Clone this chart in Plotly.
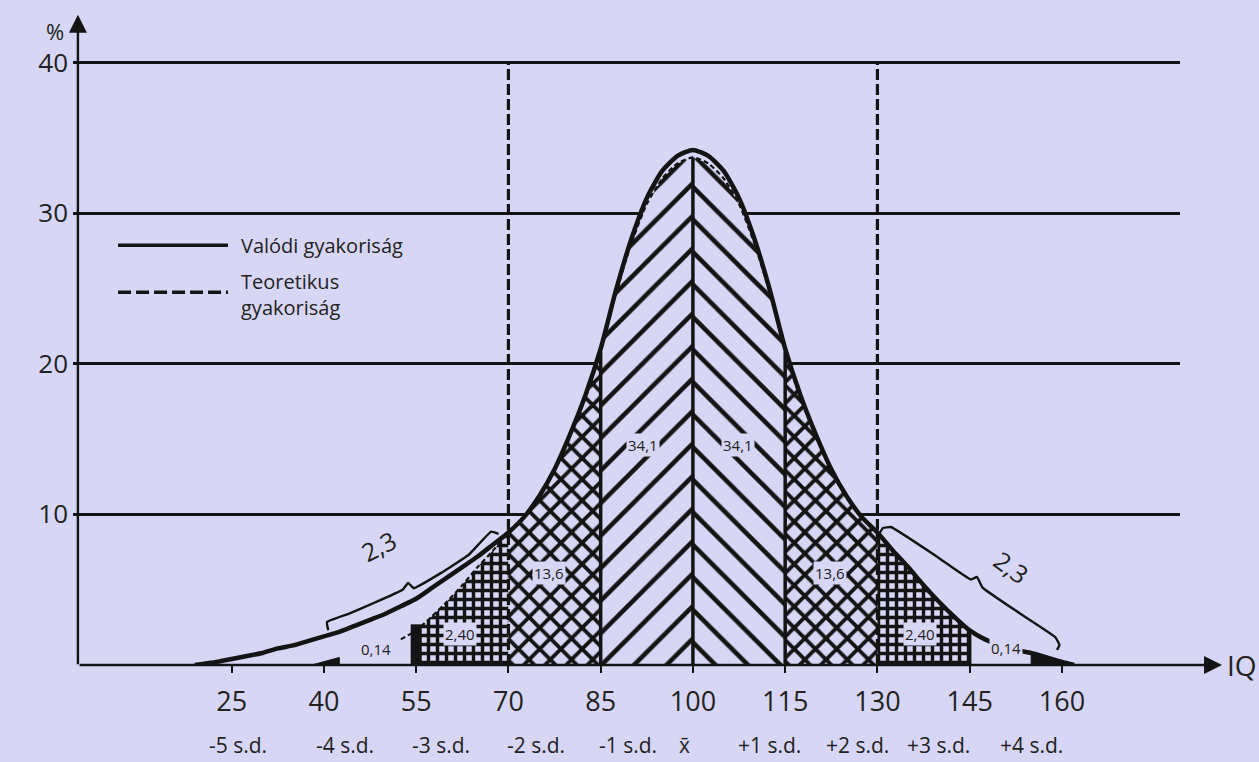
import plotly.graph_objects as go

BG = "#d7d7f5"
INK = "#141414"
FONT = "Open Sans, Noto Sans, DejaVu Sans, sans-serif"

# ---------------- data ----------------
x_ticks = [25, 40, 55, 70, 85, 100, 115, 130, 145, 160]
sd_labels = ["-5 s.d.", "-4 s.d.", "-3 s.d.", "-2 s.d.", "-1 s.d.", "x\u0304",
             "+1 s.d.", "+2 s.d.", "+3 s.d.", "+4 s.d."]
sd_iq = [26.0, 43.5, 59.0, 74.5, 89.5, 98.7, 112.5, 126.8, 140.0, 155.0]
y_ticks = [10, 20, 30, 40]

# theoretical (dashed) frequency curve, % vs IQ
th_iq = [38, 40, 42.5, 45, 47.5, 50, 52.5, 55, 57.5, 60, 62.5, 65, 67.5, 70,
         72.5, 75, 77.5, 80, 82.5, 85, 87.5, 90, 92.5, 95, 97.5, 100,
         102.5, 105, 107.5, 110, 112.5, 115, 117.5, 120, 122.5, 125, 127.5, 130,
         132.5, 135, 137.5, 140, 142.5, 145, 147.5, 150, 152.5, 155, 157.5, 160, 162]
th_val = [0.0, 0.2, 0.5, 0.8, 1.0, 1.3, 1.7, 2.3, 3.2, 4.2, 5.3, 6.5, 7.6, 8.8,
          9.8, 11.2, 13.0, 15.2, 17.7, 20.8, 24.7, 28.0, 30.6, 32.3, 33.3, 33.7,
          33.3, 32.3, 30.6, 28.0, 24.7, 20.8, 17.7, 15.2, 13.0, 11.2, 9.8, 8.8,
          7.6, 6.5, 5.3, 4.2, 3.2, 2.3, 1.7, 1.3, 1.0, 0.8, 0.5, 0.2, 0.0]

# real (solid) frequency curve
aq_iq = [19, 22.5, 25, 27.5, 30, 32.5, 35, 37.5, 40, 42.5, 45, 47.5, 50, 52.5, 55,
         57.5, 60, 62.5, 65, 67.5, 70, 72.5, 75, 77.5, 80, 82.5, 85, 87.5, 90,
         92.5, 95, 97.5, 100, 102.5, 105, 107.5, 110, 112.5, 115, 117.5, 120,
         122.5, 125, 127.5, 130, 132.5, 135, 137.5, 140, 142.5, 145, 147.5, 150,
         152.5, 155, 157.5, 160, 162]
aq_val = [0.0, 0.2, 0.4, 0.6, 0.8, 1.1, 1.3, 1.6, 1.9, 2.2, 2.6, 3.0, 3.4, 3.9, 4.4,
          5.1, 5.8, 6.5, 7.2, 8.0, 8.8, 9.8, 11.2, 13.0, 15.3, 17.9, 21.0, 24.9, 28.3,
          31.0, 32.8, 33.8, 34.2, 33.8, 32.8, 31.0, 28.3, 24.9, 21.0, 17.9, 15.3,
          13.0, 11.2, 9.8, 8.8, 7.6, 6.5, 5.3, 4.2, 3.2, 2.3, 1.7, 1.3,
          1.0, 0.8, 0.5, 0.2, 0.0]

# area percentages written in the bands
area_text = ["0,14", "2,40", "13,6", "34,1", "34,1", "13,6", "2,40", "0,14"]
area_iq = [48.5, 62.1, 76.6, 91.9, 107.3, 122.3, 136.9, 150.9]
area_val = [1.05, 2.05, 6.1, 14.6, 14.6, 6.1, 2.05, 1.15]

# "2,3" tail brackets (IQ, %)
brL_iq = [40.7, 40.5, 44.0, 48.0, 52.8, 53.7, 54.6, 59.0, 63.5, 67.2, 68.4]
brL_val = [2.3, 2.85, 3.4, 4.1, 5.0, 5.45, 5.1, 6.1, 7.3, 8.85, 8.7]
brR_iq = [130.1, 130.9, 132.2, 139.8, 145.2, 146.2, 147.1, 153.0, 158.9, 159.6, 159.2]
brR_val = [8.56, 9.09, 9.16, 7.16, 5.68, 5.84, 5.14, 3.47, 1.86, 1.33, 1.0]
tail_text = ["2,3", "2,3"]
tail_iq = [48.8, 151.8]
tail_val = [7.9, 6.5]
tail_angle = [-27, 36]

# legend entries (manual legend, long line samples)
legend_text = ["Valódi gyakoriság", "Teoretikus", "gyakoriság"]

# ---------------- figure ----------------
fig = go.Figure()

th_map = dict(zip(th_iq, th_val))


def band(a, b):
    xs = [v for v in th_iq if a <= v <= b]
    ys = [th_map[v] for v in xs]
    return [a] + xs + [b], [0] + ys + [0]


bands = [
    (38, 42.5, None, dict()),
    (55, 70, "+", dict(size=9, solidity=0.62)),
    (70, 85, "x", dict(size=15, solidity=0.45)),
    (85, 100, "/", dict(size=23, solidity=0.2)),
    (100, 115, "\\", dict(size=23, solidity=0.2)),
    (115, 130, "x", dict(size=15, solidity=0.45)),
    (130, 145, "+", dict(size=9, solidity=0.62)),
    (155, 162, None, dict()),
]
for a, b, shape, pat in bands:
    bx, by = band(a, b)
    if shape is None:
        fig.add_trace(go.Scatter(x=bx, y=by, mode="lines", fill="toself",
                                 fillcolor=INK, line=dict(width=1, color=INK),
                                 hoverinfo="skip", showlegend=False))
    else:
        fig.add_trace(go.Scatter(
            x=bx, y=by, mode="lines", fill="toself", fillcolor=BG,
            fillpattern=dict(shape=shape, fgcolor=INK, bgcolor=BG,
                             fillmode="replace", **pat),
            line=dict(width=0, color=INK), hoverinfo="skip", showlegend=False))

# solid band boundaries
vx, vy = [], []
for e in [85, 100, 115, 145]:
    vx += [e, e, None]
    vy += [0, th_map[e], None]
fig.add_trace(go.Scatter(x=vx, y=vy, mode="lines", line=dict(color=INK, width=3.5),
                         hoverinfo="skip", showlegend=False))
# heavy mark at 55
fig.add_trace(go.Scatter(x=[55, 55], y=[0, th_map[55] + 0.4], mode="lines",
                         line=dict(color=INK, width=11), hoverinfo="skip",
                         showlegend=False))
# dashed sigma lines at 70 / 130
dx, dy = [], []
for e in [70, 130]:
    dx += [e, e, None]
    dy += [0, y_ticks[-1], None]
fig.add_trace(go.Scatter(x=dx, y=dy, mode="lines",
                         line=dict(color=INK, width=3.2, dash="11px,4px"),
                         hoverinfo="skip", showlegend=False))

# curves
fig.add_trace(go.Scatter(x=aq_iq, y=aq_val, mode="lines", name="Valódi gyakoriság",
                         line=dict(color=INK, width=4.5, shape="spline", smoothing=0.6),
                         hoverinfo="skip", showlegend=False))
th_draw = [i for i, v in enumerate(th_iq) if v >= 52.5]
fig.add_trace(go.Scatter(x=[th_iq[i] for i in th_draw], y=[th_val[i] for i in th_draw],
                         mode="lines", name="Teoretikus gyakoriság",
                         line=dict(color=INK, width=2.2, dash="5px,3px",
                                   shape="spline", smoothing=0.6),
                         hoverinfo="skip", showlegend=False))

# brackets
for bxs, bys in [(brL_iq, brL_val), (brR_iq, brR_val)]:
    fig.add_trace(go.Scatter(x=bxs, y=bys, mode="lines",
                             line=dict(color=INK, width=2.4, shape="spline", smoothing=0.3),
                             hoverinfo="skip", showlegend=False))

annotations = []
for t, xv, yv in zip(area_text, area_iq, area_val):
    annotations.append(dict(x=xv, y=yv, xref="x", yref="y", text=t, showarrow=False,
                            font=dict(family=FONT, size=15, color="#222"),
                            bgcolor=BG, borderpad=1))
for t, xv, yv, ang in zip(tail_text, tail_iq, tail_val, tail_angle):
    annotations.append(dict(x=xv, y=yv, xref="x", yref="y", text=t, showarrow=False,
                            textangle=ang,
                            font=dict(family=FONT, size=25, color="#222")))
for t, xv in zip(sd_labels, sd_iq):
    annotations.append(dict(x=xv, y=-0.131, xref="x", yref="paper", text=t,
                            showarrow=False, yanchor="middle",
                            font=dict(family=FONT, size=21, color="#222")))

# axis arrows
annotations.append(dict(x=1.038, y=0, xref="paper", yref="y", ax=-1144, ay=0,
                        axref="pixel", ayref="pixel", text="", showarrow=True,
                        arrowhead=2, arrowsize=1.5, arrowwidth=2.4, arrowcolor=INK,
                        standoff=0, startstandoff=0))
annotations.append(dict(x=0, y=1.066, xref="x", yref="paper", ax=0, ay=651,
                        text="", showarrow=True,
                        arrowhead=2, arrowsize=1.5, arrowwidth=2.4, arrowcolor=INK,
                        standoff=0, startstandoff=0))
annotations.append(dict(x=1.041, y=0, xref="paper", yref="y", text="IQ", showarrow=False,
                        xanchor="left", yanchor="middle",
                        font=dict(family=FONT, size=28, color="#222")))
annotations.append(dict(x=-0.016, y=1.040, xref="paper", yref="paper", text="%",
                        showarrow=False, xanchor="center", yanchor="middle",
                        font=dict(family=FONT, size=22, color="#222")))
# legend text
for t, yp in zip(legend_text, [0.688, 0.629, 0.5864]):
    annotations.append(dict(x=0.151, y=yp, xref="paper", yref="paper",
                            text=t, showarrow=False,
                            xanchor="left", yanchor="middle", borderpad=0,
                            font=dict(family=FONT, size=20, color="#222")))

shapes = [
    dict(type="line", xref="paper", yref="paper", x0=0.0407, x1=0.140,
         y0=0.688, y1=0.688, line=dict(color=INK, width=3.5)),
    dict(type="line", xref="paper", yref="paper", x0=0.0407, x1=0.140,
         y0=0.611, y1=0.611, line=dict(color=INK, width=3.5, dash="13px,5px")),
]

fig.update_layout(
    width=1259, height=762,
    margin=dict(l=73, r=79, t=54.5, b=97, pad=0),
    paper_bgcolor=BG, plot_bgcolor=BG,
    font=dict(family=FONT, color="#222"),
    annotations=annotations, shapes=shapes,
    showlegend=False,
)
fig.update_xaxes(range=[-0.8, 179.2], tickvals=x_ticks, ticktext=[str(v) for v in x_ticks],
                 showgrid=False, zeroline=False, showline=False,
                 ticks="outside", ticklen=7, tickwidth=2, tickcolor=INK,
                 ticklabelstandoff=6,
                 tickfont=dict(family=FONT, size=27, color="#222"))
fig.update_yaxes(range=[0, 40.5], tickvals=y_ticks, ticktext=[str(v) for v in y_ticks],
                 showgrid=True, gridcolor=INK, gridwidth=2.6,
                 zeroline=False, showline=False, ticks="",
                 ticklabelstandoff=4,
                 tickfont=dict(family=FONT, size=26, color="#222"))

fig.write_html(
    "out.html",
    config={"displayModeBar": False},
    post_script="document.body.style.margin='0';document.body.style.background='" + BG + "';",
)
